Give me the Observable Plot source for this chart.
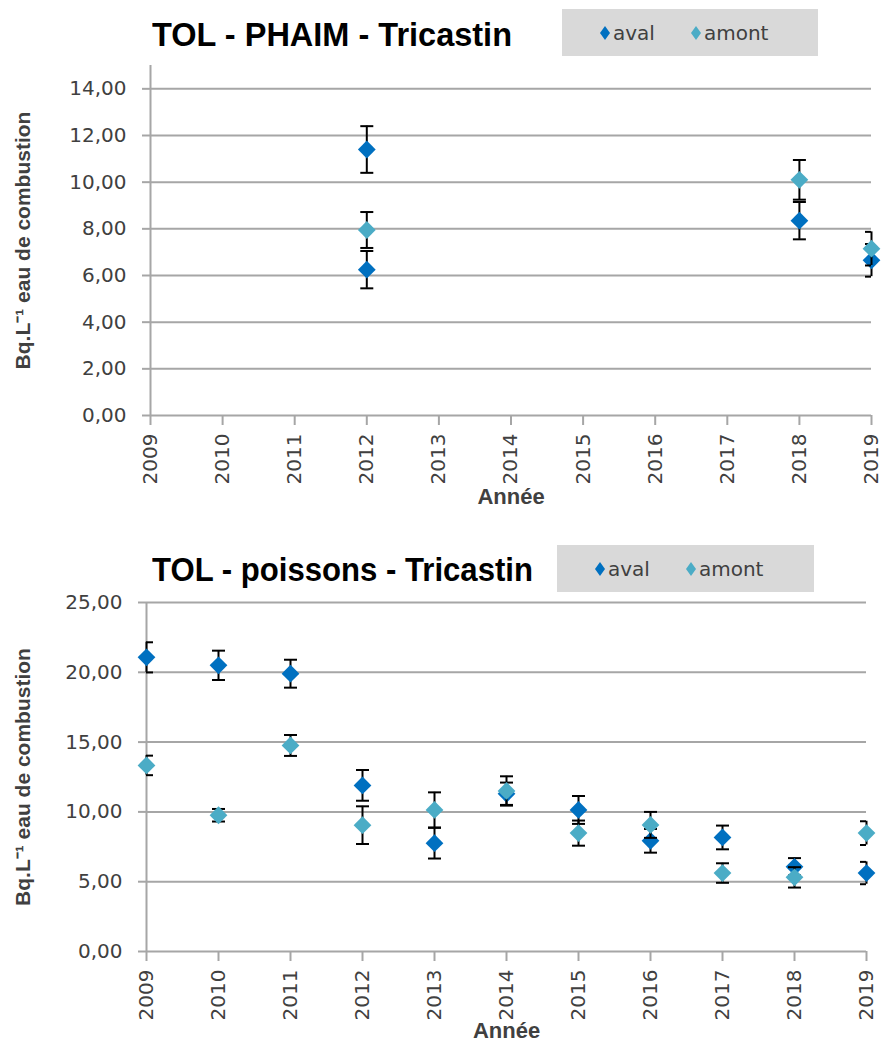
<!DOCTYPE html>
<html>
<head>
<meta charset="utf-8">
<script src="https://cdn.jsdelivr.net/npm/d3@7"></script>
<script src="https://cdn.jsdelivr.net/npm/@observablehq/plot@0.6"></script>
<style>
  body { margin:0; background:#fff; width:884px; height:1047px; position:relative; overflow:hidden; }
  .title { position:absolute; font-family:"Liberation Sans",Arial,sans-serif; font-weight:bold; font-size:34px; color:#000; white-space:nowrap; line-height:1; transform-origin:0 0; }
  .legend { position:absolute; background:#d9d9d9; display:flex; align-items:center; font-family:"DejaVu Sans",sans-serif; font-size:20px; color:#404040; }
  .legend span.item { display:inline-flex; align-items:center; margin-left:36px; }
  .legend span.item:first-child { margin-left:38px; }
  .legend svg { margin-right:3px; }
  .chart { position:absolute; left:0; }
  .chart g[aria-label="y-axis label"] text { font-family:"Liberation Sans",Arial,sans-serif; font-weight:bold; font-size:21px; fill:#404040; }
  .chart g[aria-label="x-axis label"] text { font-family:"Liberation Sans",Arial,sans-serif; font-weight:bold; font-size:22px; fill:#404040; }
</style>
</head>
<body>
<div class="title" data-w="360" style="left:152px;top:17px">TOL - PHAIM - Tricastin</div>
<div class="legend" id="leg1" style="left:562px;top:9px;width:256px;height:47px"></div>
<div class="chart" id="c1" style="top:50px"></div>
<div class="title" data-w="381" style="left:152px;top:552px">TOL - poissons - Tricastin</div>
<div class="legend" id="leg2" style="left:557px;top:545px;width:257px;height:47px"></div>
<div class="chart" id="c2" style="top:590px"></div>
<script>
// ---- data ----
const seriesNames = ["aval", "amont"];
const seriesColors = ["#0070c0", "#4bacc6"];
const xTicks = [2009, 2010, 2011, 2012, 2013, 2014, 2015, 2016, 2017, 2018, 2019];

// Chart 1: TOL - PHAIM - Tricastin
const yTicksTop = [0, 2, 4, 6, 8, 10, 12, 14];
const avalYearsTop = [2012, 2012, 2018, 2019];
const avalValuesTop = [11.4, 6.25, 8.35, 6.65];
const avalErrTop = [1.0, 0.8, 0.8, 0.7];
const amontYearsTop = [2012, 2018, 2019];
const amontValuesTop = [7.95, 10.1, 7.15];
const amontErrTop = [0.77, 0.85, 0.72];

// Chart 2: TOL - poissons - Tricastin
const yTicksBottom = [0, 5, 10, 15, 20, 25];
const yearsBottom = [2009, 2010, 2011, 2012, 2013, 2014, 2015, 2016, 2017, 2018, 2019];
const avalValuesBottom = [21.07, 20.5, 19.9, 11.9, 7.76, 11.3, 10.14, 7.93, 8.17, 6.07, 5.62];
const avalErrBottom = [1.08, 1.05, 1.0, 1.1, 1.1, 0.8, 1.0, 0.85, 0.85, 0.62, 0.8];
const amontValuesBottom = [13.33, 9.76, 14.76, 9.05, 10.14, 11.5, 8.48, 9.07, 5.62, 5.31, 8.48];
const amontErrBottom = [0.7, 0.45, 0.75, 1.35, 1.26, 1.05, 0.9, 0.93, 0.7, 0.73, 0.85];

// ---- helpers ----
const fmt = d => d.toFixed(2).replace(".", ",");
const table = (years, values, errs) => years.map((x, i) => ({x, y: values[i], e: errs[i]}));
const capSymbol = { draw(ctx) { ctx.moveTo(-6.5, 0); ctx.lineTo(6.5, 0); } };
const gridColor = "#a6a6a6";

function seriesMarks(data, color) {
  return [
    Plot.ruleX(data, {x: "x", y1: d => d.y - d.e, y2: d => d.y + d.e, stroke: "#000", strokeWidth: 2}),
    Plot.dot(data, {x: "x", y: d => d.y + d.e, symbol: capSymbol, stroke: "#000", strokeWidth: 2, clip: true}),
    Plot.dot(data, {x: "x", y: d => d.y - d.e, symbol: capSymbol, stroke: "#000", strokeWidth: 2, clip: true}),
    Plot.dot(data, {x: "x", y: "y", symbol: "diamond2", r: 8, fill: color, stroke: null})
  ];
}

function makeChart(opts) {
  return Plot.plot({
    width: 884, height: opts.height,
    marginLeft: opts.ml, marginRight: opts.mr, marginTop: opts.mt, marginBottom: opts.mb,
    x: {domain: [2009, 2019]},
    y: {domain: opts.ydomain},
    style: {fontFamily: "DejaVu Sans, sans-serif", fontSize: "20px", color: "#404040", background: "transparent", overflow: "visible"},
    marks: [
      Plot.gridY(opts.yTicks, {stroke: gridColor, strokeOpacity: 1, strokeWidth: 2}),
      Plot.ruleX([2009], {stroke: gridColor, strokeWidth: 2}),
      Plot.axisY(opts.yTicks, {tickFormat: fmt, tickSize: 8, tickPadding: 16, stroke: gridColor, strokeWidth: 2, fill: "#404040",
        label: "Bq.L⁻¹ eau de combustion", labelArrow: "none", labelAnchor: "center", labelOffset: opts.ml - 15}),
      Plot.axisX(xTicks, {tickFormat: d => String(d), tickRotate: -90, tickSize: 10, tickPadding: 8, stroke: gridColor, strokeWidth: 2, fill: "#404040",
        label: "Année", labelArrow: "none", labelAnchor: "center", labelOffset: opts.xlabelOffset}),
      ...seriesMarks(opts.aval, seriesColors[0]),
      ...seriesMarks(opts.amont, seriesColors[1])
    ]
  });
}

function makeLegend(el) {
  seriesNames.forEach((name, i) => {
    const s = document.createElement("span");
    s.className = "item";
    s.innerHTML = `<svg width="10" height="14" viewBox="0 0 10 14"><path d="M5 0 L10 7 L5 14 L0 7 Z" fill="${seriesColors[i]}"/></svg>${name}`;
    el.appendChild(s);
  });
}

makeLegend(document.getElementById("leg1"));
makeLegend(document.getElementById("leg2"));

document.querySelectorAll(".title").forEach(t => {
  const w = t.getBoundingClientRect().width;
  t.style.transform = `scaleX(${(+t.dataset.w) / w})`;
});

document.getElementById("c1").appendChild(makeChart({
  height: 470, ml: 150, mr: 13, mt: 15, mb: 105, ydomain: [0, 15], yTicks: yTicksTop, xlabelOffset: 88,
  aval: table(avalYearsTop, avalValuesTop, avalErrTop),
  amont: table(amontYearsTop, amontValuesTop, amontErrTop)
}));

document.getElementById("c2").appendChild(makeChart({
  height: 457, ml: 146, mr: 18, mt: 12, mb: 96, ydomain: [0, 25], yTicks: yTicksBottom, xlabelOffset: 86,
  aval: table(yearsBottom, avalValuesBottom, avalErrBottom),
  amont: table(yearsBottom, amontValuesBottom, amontErrBottom)
}));
</script>
</body>
</html>
